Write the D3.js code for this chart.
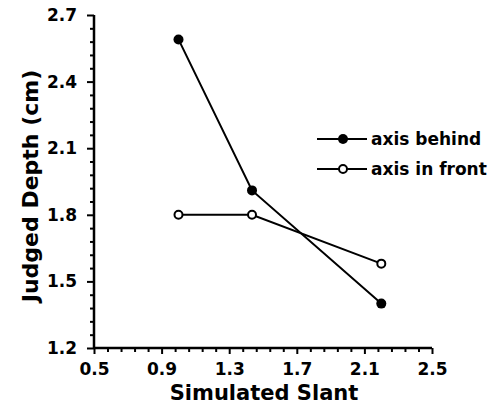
<!DOCTYPE html>
<html><head><meta charset="utf-8">
<script src="https://cdn.jsdelivr.net/npm/d3@7"></script>
<style>body{margin:0;background:#fff}text{font-family:"DejaVu Sans",sans-serif;font-weight:bold;fill:#000}</style>
</head><body>
<svg id="c" width="499" height="405"></svg>
<script>
const slant = [1.0, 1.435, 2.2];
const axisBehind = [2.59, 1.91, 1.40];
const axisInFront = [1.80, 1.80, 1.58];
const xTicks = [0.5, 0.9, 1.3, 1.7, 2.1, 2.5];
const yTicks = [1.2, 1.5, 1.8, 2.1, 2.4, 2.7];
const seriesNames = ["axis behind", "axis in front"];

const svg = d3.select("#c");
const x = d3.scaleLinear().domain([0.5, 2.5]).range([94, 432]);
const y = d3.scaleLinear().domain([1.2, 2.7]).range([348, 15]);

const xMinor = d3.range(0.5, 2.5001, 0.08).filter(v => !xTicks.some(t => Math.abs(t - v) < 1e-6));
const yMinor = d3.range(1.2, 2.7001, 0.06).filter(v => !yTicks.some(t => Math.abs(t - v) < 1e-6));

const gx = svg.append("g").attr("transform", "translate(0,348)");
gx.call(d3.axisBottom(x).tickValues(xMinor).tickSize(4).tickFormat(""))
  .call(g => g.select(".domain").remove());
gx.selectAll("line").attr("stroke-width", 2);
const gxM = svg.append("g").attr("transform", "translate(0,348)");
gxM.call(d3.axisBottom(x).tickValues(xTicks).tickSize(6).tickPadding(9).tickFormat(d3.format(".1f")));
gxM.select(".domain").attr("stroke-width", 2.5).attr("d", "M94,0H432");
gxM.selectAll("line").attr("stroke-width", 2);
gxM.selectAll("text").style("font-size", "17px");

const gy = svg.append("g").attr("transform", "translate(94,0)");
gy.call(d3.axisLeft(y).tickValues(yMinor).tickSize(4).tickFormat(""))
  .call(g => g.select(".domain").remove());
gy.selectAll("line").attr("stroke-width", 2);
const gyM = svg.append("g").attr("transform", "translate(94,0)");
gyM.call(d3.axisLeft(y).tickValues(yTicks).tickSize(7).tickPadding(10).tickFormat(d3.format(".1f")));
gyM.select(".domain").attr("stroke-width", 2.5).attr("d", "M0,15V348");
gyM.selectAll("line").attr("stroke-width", 2);
gyM.selectAll("text").style("font-size", "17px");

svg.append("text").attr("x", 264).attr("y", 400).attr("text-anchor", "middle")
  .style("font-size", "21px").text("Simulated Slant");
svg.append("text").attr("transform", "translate(38,186) rotate(-90)").attr("text-anchor", "middle")
  .style("font-size", "22px").text("Judged Depth (cm)");

const line = d3.line().x((d, i) => x(slant[i])).y(d => y(d));
svg.append("path").attr("d", line(axisBehind)).attr("fill", "none").attr("stroke", "#000").attr("stroke-width", 2);
svg.append("path").attr("d", line(axisInFront)).attr("fill", "none").attr("stroke", "#000").attr("stroke-width", 2);

svg.selectAll("circle.b").data(axisBehind).join("circle")
  .attr("cx", (d, i) => x(slant[i])).attr("cy", d => y(d)).attr("r", 5).attr("fill", "#000");
svg.selectAll("circle.f").data(axisInFront).join("circle")
  .attr("cx", (d, i) => x(slant[i])).attr("cy", d => y(d)).attr("r", 4)
  .attr("fill", "#fff").attr("stroke", "#000").attr("stroke-width", 2);

const lg = svg.append("g");
seriesNames.forEach((name, i) => {
  const ly = 139 + i * 30;
  lg.append("line").attr("x1", 317).attr("x2", 367).attr("y1", ly).attr("y2", ly).attr("stroke", "#000").attr("stroke-width", 2);
  lg.append("circle").attr("cx", 343).attr("cy", ly).attr("r", i === 0 ? 5 : 4)
    .attr("fill", i === 0 ? "#000" : "#fff").attr("stroke", "#000").attr("stroke-width", i === 0 ? 0 : 2);
  lg.append("text").attr("x", 371).attr("y", ly + 6).style("font-size", "17px").text(name);
});
</script>
</body></html>
